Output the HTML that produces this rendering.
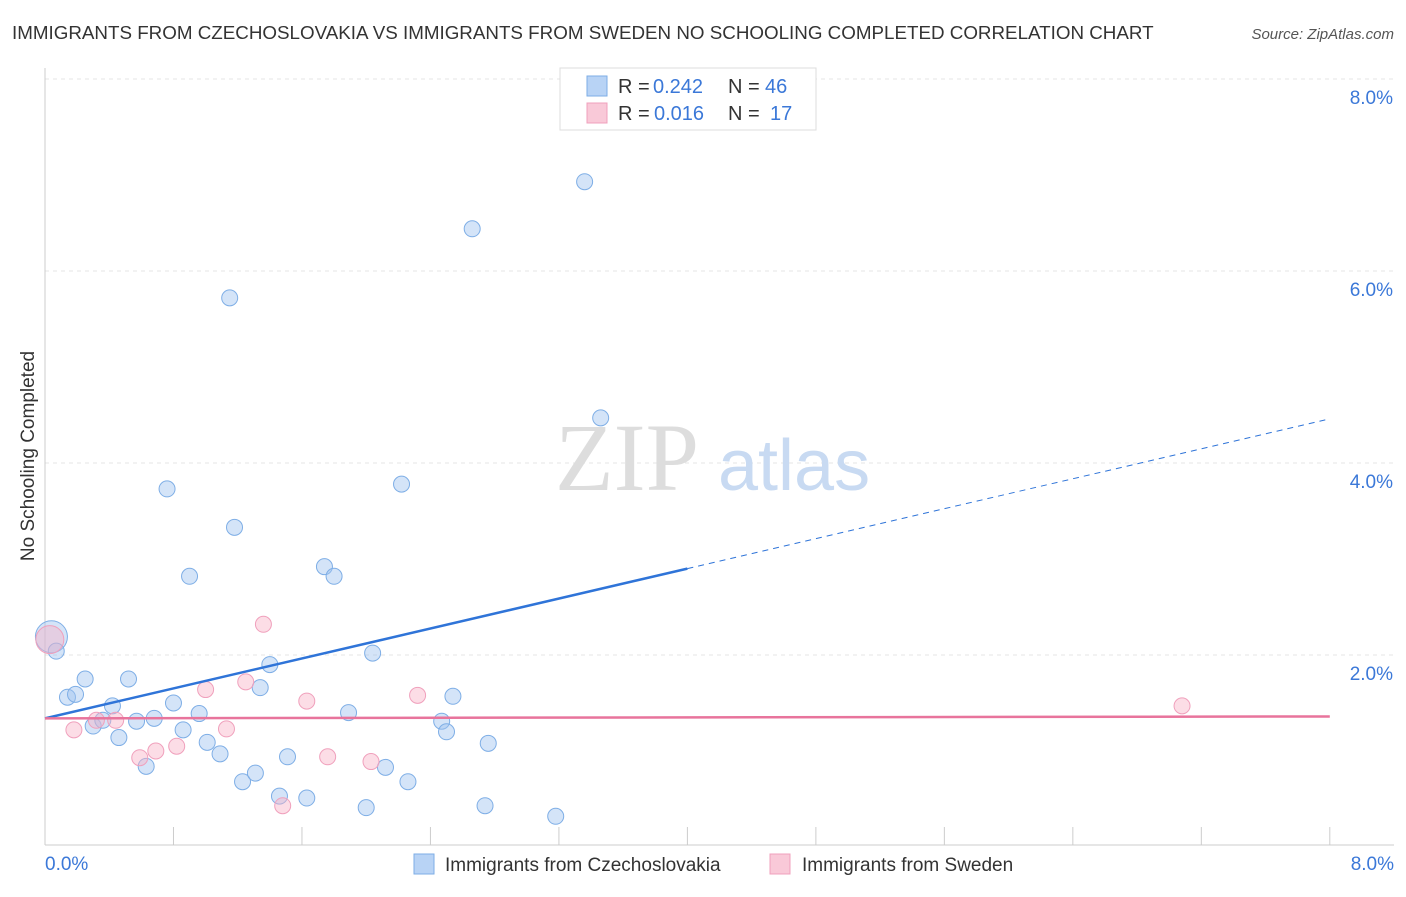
<!DOCTYPE html>
<html><head><meta charset="utf-8"><style>
body{margin:0;background:#fff;font-family:"Liberation Sans",sans-serif;}
</style></head><body>
<svg id="chart" width="1406" height="892" xmlns="http://www.w3.org/2000/svg" font-family="Liberation Sans, sans-serif">
<text x="12" y="39" font-size="18.8" fill="#333">IMMIGRANTS FROM CZECHOSLOVAKIA VS IMMIGRANTS FROM SWEDEN NO SCHOOLING COMPLETED CORRELATION CHART</text>
<text x="1394" y="39" font-size="15" fill="#555" font-style="italic" text-anchor="end">Source: ZipAtlas.com</text>
<text transform="translate(34,456) rotate(-90)" font-size="19" fill="#333" text-anchor="middle">No Schooling Completed</text>
<g id="grid"></g>
<text x="555" y="490" font-size="96" fill="#ddd" font-family="Liberation Serif, serif">ZIP</text>
<text x="718" y="490" font-size="72" fill="#c8daf2">atlas</text>
<g id="marks"></g>
<g>
<rect x="560" y="68" width="256" height="62" fill="#fff" stroke="#ddd"/>
<rect x="587" y="76" width="20" height="20" fill="#b8d3f5" stroke="#7eaee6"/>
<text x="618" y="93" font-size="20" fill="#333">R =</text>
<text x="653" y="93" font-size="20" fill="#3b78d8">0.242</text>
<text x="728" y="93" font-size="20" fill="#333">N =</text>
<text x="765" y="93" font-size="20" fill="#3b78d8">46</text>
<rect x="587" y="103" width="20" height="20" fill="#f9c9d8" stroke="#f0a0bc"/>
<text x="618" y="120" font-size="20" fill="#333">R =</text>
<text x="654" y="120" font-size="20" fill="#3b78d8">0.016</text>
<text x="728" y="120" font-size="20" fill="#333">N =</text>
<text x="770" y="120" font-size="20" fill="#3b78d8">17</text>
</g>
<g>
<rect x="414" y="854" width="20" height="20" fill="#b8d3f5" stroke="#7eaee6"/>
<text x="445" y="871" font-size="19" fill="#333">Immigrants from Czechoslovakia</text>
<rect x="770" y="854" width="20" height="20" fill="#f9c9d8" stroke="#f0a0bc"/>
<text x="802" y="871" font-size="19" fill="#333">Immigrants from Sweden</text>
</g>
</svg>
<script>
const blueX=[0.04,0.07,0.14,0.19,0.25,0.30,0.36,0.42,0.46,0.52,0.57,0.63,0.68,0.76,0.80,0.86,0.90,0.96,1.01,1.09,1.15,1.18,1.23,1.31,1.34,1.40,1.46,1.51,1.63,1.74,1.80,1.89,2.00,2.04,2.12,2.22,2.26,2.47,2.50,2.54,2.66,2.74,2.76,3.18,3.36,3.46];
const blueY=[2.19,2.04,1.56,1.59,1.75,1.26,1.32,1.47,1.14,1.75,1.31,0.84,1.34,3.73,1.50,1.22,2.82,1.39,1.09,0.97,5.72,3.33,0.68,0.77,1.66,1.90,0.53,0.94,0.51,2.92,2.82,1.40,0.41,2.02,0.83,3.78,0.68,1.31,1.20,1.57,6.44,0.43,1.08,0.32,6.93,4.47];
const pinkX=[0.03,0.18,0.32,0.44,0.59,0.69,0.82,1.00,1.13,1.25,1.36,1.48,1.63,1.76,2.03,2.32,7.08];
const pinkY=[2.16,1.22,1.32,1.32,0.93,1.00,1.05,1.64,1.23,1.72,2.32,0.43,1.52,0.94,0.89,1.58,1.47];
const blueTrend=[1.34,4.46];
const pinkTrend=[1.34,1.36];
const yTicks=[2,4,6,8];
const xTicks=[0,0.8,1.6,2.4,3.2,4.0,4.8,5.6,6.4,7.2,8.0];
const NS="http://www.w3.org/2000/svg";
const X=v=>45+v*160.6, Y=v=>847-v*96;
function mk(tag,attrs,parent){const e=document.createElementNS(NS,tag);for(const k in attrs)e.setAttribute(k,attrs[k]);parent.appendChild(e);return e;}
const grid=document.getElementById('grid'), marks=document.getElementById('marks');
yTicks.forEach(t=>{
 const l=mk('line',{x1:45,x2:1394,y1:Y(t),y2:Y(t),stroke:'#e4e4e4','stroke-dasharray':'4,4'},grid);
 
 
 const tx=mk('text',{x:1393,y:Y(t)+25,'font-size':19,fill:'#3b78d8','text-anchor':'end'},grid);
 tx.textContent=t.toFixed(1)+'%';
 
 
});
const ax=mk('line',{x1:45,x2:1394,y1:845,y2:845,stroke:'#ccc'},grid);


const ay=mk('line',{x1:45,x2:45,y1:68,y2:845,stroke:'#ccc'},grid);


xTicks.forEach(t=>{
 const l=mk('line',{x1:X(t),x2:X(t),y1:827,y2:845,stroke:'#ccc'},grid);
 
 
});
[[0,'start',45],[8,'end',1394]].forEach(([v,a,x])=>{
 const tx=mk('text',{x:x,y:870,'font-size':19,fill:'#3b78d8','text-anchor':a},grid);
 tx.textContent=v.toFixed(1)+'%';
 
 
});
function dots(xs,ys,fill,stroke,name){
 xs.forEach((x,i)=>{
  const c=mk('circle',{cx:X(x),cy:Y(ys[i]),r:i===0?(name==='blue-point'?16:14):8,fill:fill,stroke:stroke,'stroke-width':1},marks);
  
  
 });
}
dots(blueX,blueY,'rgba(160,196,240,0.45)','#7eaee6','blue-point');
dots(pinkX,pinkY,'rgba(248,180,200,0.45)','#f0a0bc','pink-point');
const bm=blueTrend[0]+(blueTrend[1]-blueTrend[0])*0.5;
const b1=mk('line',{x1:X(0),y1:Y(blueTrend[0]),x2:X(4),y2:Y(bm),stroke:'#2f74d8','stroke-width':2.5},marks);


const b2=mk('line',{x1:X(4),y1:Y(bm),x2:X(8),y2:Y(blueTrend[1]),stroke:'#2f74d8','stroke-width':1,'stroke-dasharray':'6,5'},marks);


const p1=mk('line',{x1:X(0),y1:Y(pinkTrend[0]),x2:X(8),y2:Y(pinkTrend[1]),stroke:'#e8749c','stroke-width':2.5},marks);


</script>
</body></html>
